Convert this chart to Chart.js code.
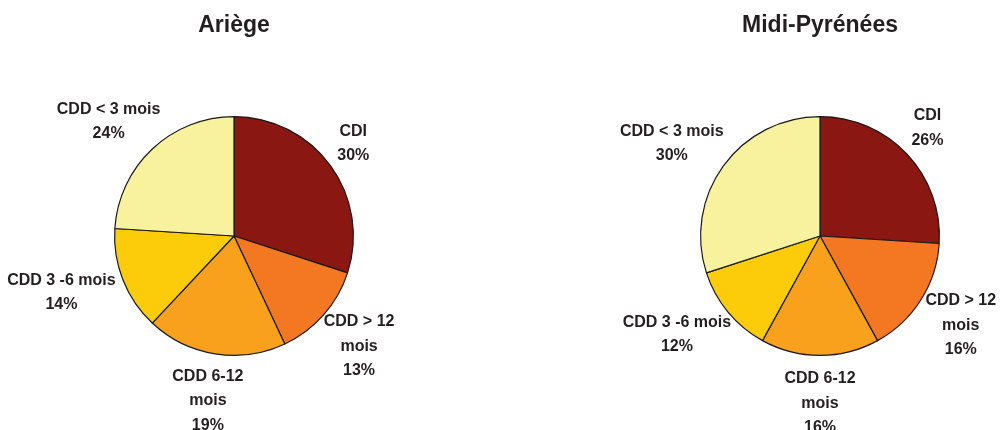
<!DOCTYPE html>
<html>
<head>
<meta charset="utf-8">
<script src="https://cdn.jsdelivr.net/npm/chart.js@4.4.1/dist/chart.umd.min.js"></script>
<style>
  html, body { margin: 0; padding: 0; background: #ffffff; }
  #wrap { position: relative; width: 1002px; height: 430px; }
  .box { position: absolute; top: 0; width: 468px; height: 430px; }
  #b1 { left: 0px; }
  #b2 { left: 586px; }
</style>
</head>
<body>
<div id="wrap">
  <div class="box" id="b1"><canvas id="c1"></canvas></div>
  <div class="box" id="b2"><canvas id="c2"></canvas></div>
</div>
<script>
// ---- Data ----
const categories = [["CDI"], ["CDD > 12", "mois"], ["CDD 6-12", "mois"], ["CDD 3 -6 mois"], ["CDD < 3 mois"]];
const titles = ["Ariège", "Midi-Pyrénées"];
const valuesAriege = [30, 13, 19, 14, 24];
const valuesMidiPyrenees = [26, 16, 16, 12, 30];
const sliceColors = ["#8B1712", "#F37821", "#F9A11C", "#FCCC0B", "#F8F29F"];

const FONT = "'Liberation Sans', Arial, sans-serif";
const TEXT_COLOR = "#231f20";

const labelPlugin = {
  id: 'outerLabels',
  afterDatasetsDraw(chart) {
    const ctx = chart.ctx;
    const meta = chart.getDatasetMeta(0);
    const ds = chart.data.datasets[0];
    ctx.save();
    ctx.font = "bold 16px " + FONT;
    ctx.fillStyle = TEXT_COLOR;
    ctx.textAlign = "center";
    ctx.textBaseline = "middle";
    const lineH = 24.5;
    const gap = 12;
    meta.data.forEach((arc, i) => {
      const p = arc.getProps(['x', 'y', 'startAngle', 'endAngle', 'outerRadius'], true);
      const mid = (p.startAngle + p.endAngle) / 2;
      const dx = Math.cos(mid), dy = Math.sin(mid);
      const lbl = chart.data.labels[i];
      const lines = (Array.isArray(lbl) ? lbl.slice() : [lbl]);
      lines.push(ds.data[i] + "%");
      let w = 0;
      lines.forEach(l => { w = Math.max(w, ctx.measureText(l).width); });
      const h = lines.length * lineH;
      const r = p.outerRadius + gap;
      const cx = p.x + dx * r + dx * w / 2;
      const cy = p.y + dy * r + dy * h / 2;
      lines.forEach((l, k) => {
        ctx.fillText(l, cx, cy - h / 2 + lineH / 2 + k * lineH - 1);
      });
    });
    ctx.restore();
  }
};

const titlePlugin = {
  id: 'topTitle',
  afterDraw(chart, args, opts) {
    const ctx = chart.ctx;
    ctx.save();
    ctx.font = "bold 23px " + FONT;
    ctx.fillStyle = TEXT_COLOR;
    ctx.textAlign = "center";
    ctx.textBaseline = "alphabetic";
    ctx.fillText(opts.text, (chart.chartArea.left + chart.chartArea.right) / 2, 32);
    ctx.restore();
  }
};

function makePie(id, title, values) {
  return new Chart(document.getElementById(id), {
    type: 'pie',
    data: {
      labels: categories,
      datasets: [{
        data: values,
        backgroundColor: sliceColors,
        borderColor: "#1a1a1a",
        borderWidth: 1.2
      }]
    },
    options: {
      responsive: true,
      maintainAspectRatio: false,
      animation: false,
      layout: { padding: { top: 116, bottom: 74, left: 114, right: 114 } },
      plugins: {
        legend: { display: false },
        tooltip: { enabled: false },
        title: { display: false },
        topTitle: { text: title }
      }
    },
    plugins: [labelPlugin, titlePlugin]
  });
}

makePie('c1', titles[0], valuesAriege);
makePie('c2', titles[1], valuesMidiPyrenees);
</script>
</body>
</html>
